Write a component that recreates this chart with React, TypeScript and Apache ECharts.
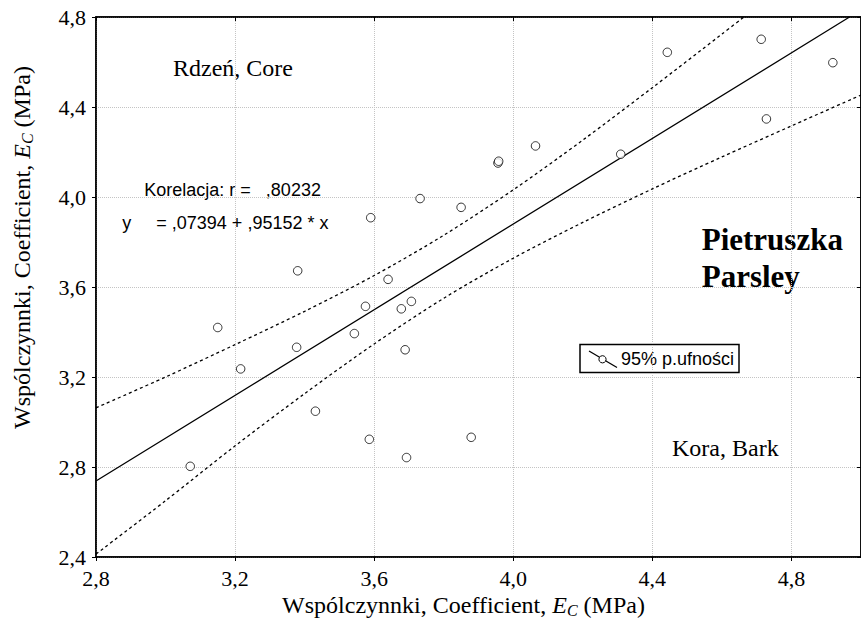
import React, { useEffect, useRef } from "react";
import * as echarts from "echarts";

// Observed points (Współczynnki E_C, x vs y)
const pointX = [3.071, 3.15, 3.216, 3.377, 3.38, 3.431, 3.543, 3.575, 3.586, 3.59, 3.64, 3.678, 3.707, 3.689, 3.693, 3.732, 3.85, 3.879, 3.956, 3.958, 4.064, 4.309, 4.443, 4.713, 4.728, 4.919];
const pointY = [2.803, 3.42, 3.236, 3.332, 3.672, 3.048, 3.393, 3.514, 2.923, 3.908, 3.634, 3.503, 3.536, 3.321, 2.842, 3.993, 3.954, 2.932, 4.151, 4.159, 4.227, 4.19, 4.643, 4.701, 4.347, 4.597];

// Regression line y = ,07394 + ,95152 * x (endpoints within the plot)
const fitX = [2.8, 4.967];
const fitY = [2.738, 4.8];

// 95% confidence band
const upperX = [2.8, 3.0, 3.2, 3.4, 3.6, 3.8, 4.0, 4.2, 4.4, 4.6, 4.663];
const upperY = [3.063, 3.2, 3.344, 3.492, 3.651, 3.83, 4.032, 4.253, 4.486, 4.724, 4.8];
const lowerX = [2.8, 3.0, 3.2, 3.4, 3.6, 3.8, 4.0, 4.2, 4.4, 4.6, 4.8, 5.0];
const lowerY = [2.413, 2.65, 2.894, 3.126, 3.347, 3.55, 3.728, 3.887, 4.036, 4.178, 4.316, 4.453];

const xTicks = { min: 2.8, max: 5.0, interval: 0.4 };
const yTicks = { min: 2.4, max: 4.8, interval: 0.4 };

const SERIF = "'Liberation Serif', 'Times New Roman', serif";
const SANS = "'Liberation Sans', Arial, sans-serif";

const zip = (xs: number[], ys: number[]) => xs.map((x, i) => [x, ys[i]]);
const fmt = (v: number) => v.toFixed(1).replace(".", ",");

const titleRich = {
  n: { fontFamily: SERIF, fontSize: 24, lineHeight: 27, fill: "#000" },
  e: { fontFamily: SERIF, fontSize: 24, lineHeight: 27, fontStyle: "italic", fill: "#000" },
  s: { fontFamily: SERIF, fontSize: 16, lineHeight: 16, fontStyle: "italic", verticalAlign: "bottom", fill: "#000" },
};

export default function App() {
  const ref = useRef<HTMLDivElement>(null);
  useEffect(() => {
    const chart = echarts.init(ref.current!, null, { renderer: "svg" });
    const splitLine = { show: true, lineStyle: { color: "#c4c4c4", type: "dotted", width: 1 } };
    const option: any = {
      animation: false,
      backgroundColor: "#fff",
      grid: { left: 96, top: 17, width: 767, height: 540, show: true, borderColor: "#000", borderWidth: 1.5, backgroundColor: "transparent" },
      xAxis: [
        {
          type: "value", min: xTicks.min, max: xTicks.max, interval: xTicks.interval,
          axisLine: { show: true, lineStyle: { color: "#000", width: 1.5 } },
          axisTick: { show: true, inside: false, length: 4, lineStyle: { color: "#000" } },
          axisLabel: { show: true, margin: 10, color: "#000", fontFamily: SERIF, fontSize: 22, formatter: fmt, showMaxLabel: false },
          splitLine,
        },
        {
          type: "value", position: "top", min: xTicks.min, max: xTicks.max, interval: xTicks.interval,
          axisLine: { show: true, lineStyle: { color: "#000", width: 1.5 } },
          axisTick: { show: true, inside: true, length: 4, lineStyle: { color: "#000" } },
          axisLabel: { show: false }, splitLine: { show: false },
        },
      ],
      yAxis: [
        {
          type: "value", min: yTicks.min, max: yTicks.max, interval: yTicks.interval,
          axisLine: { show: true, lineStyle: { color: "#000", width: 1.5 } },
          axisTick: { show: true, inside: false, length: 4, lineStyle: { color: "#000" } },
          axisLabel: { show: true, margin: 10, color: "#000", fontFamily: SERIF, fontSize: 22, formatter: fmt },
          splitLine,
        },
        {
          type: "value", position: "right", min: yTicks.min, max: yTicks.max, interval: yTicks.interval,
          axisLine: { show: true, lineStyle: { color: "#000", width: 1.5 } },
          axisTick: { show: true, inside: true, length: 4, lineStyle: { color: "#000" } },
          axisLabel: { show: false }, splitLine: { show: false },
        },
      ],
      series: [
        {
          type: "line", name: "Regresja", data: zip(fitX, fitY), showSymbol: false, symbol: "none",
          lineStyle: { color: "#000", width: 1.3 }, z: 3,
        },
        {
          type: "line", name: "95% p.ufności", data: zip(upperX, upperY), symbol: "none", smooth: 0.3,
          lineStyle: { color: "#000", width: 1.3, type: [3, 3] }, z: 3,
        },
        {
          type: "line", name: "95% p.ufności (dolna)", data: zip(lowerX, lowerY), symbol: "none", smooth: 0.3,
          lineStyle: { color: "#000", width: 1.3, type: [3, 3] }, z: 3,
        },
        {
          type: "scatter", name: "Punkty", data: zip(pointX, pointY), symbol: "circle", symbolSize: 8.5,
          itemStyle: { color: "#fff", borderColor: "#000", borderWidth: 1 }, z: 4,
        },
      ],
      graphic: [
        { type: "text", x: 173, y: 67.8, style: { text: "Rdzeń, Core", font: `24px ${SERIF}`, fill: "#000", align: "left", verticalAlign: "middle" } },
        { type: "text", x: 144.3, y: 190.4, style: { text: "Korelacja: r =   ,80232", font: `18px ${SANS}`, fill: "#000", align: "left", verticalAlign: "middle" } },
        { type: "text", x: 122.3, y: 222.6, style: { text: "y     = ,07394 + ,95152 * x", font: `18px ${SANS}`, fill: "#000", align: "left", verticalAlign: "middle" } },
        { type: "text", x: 701.7, y: 239.5, style: { text: "Pietruszka", font: `bold 31px ${SERIF}`, fill: "#000", align: "left", verticalAlign: "middle" } },
        { type: "text", x: 701.7, y: 276.8, style: { text: "Parsley", font: `bold 31px ${SERIF}`, fill: "#000", align: "left", verticalAlign: "middle" } },
        { type: "text", x: 672, y: 447.5, style: { text: "Kora, Bark", font: `24px ${SERIF}`, fill: "#000", align: "left", verticalAlign: "middle" } },
        // legend box
        { type: "rect", shape: { x: 580, y: 344.5, width: 159, height: 28 }, style: { fill: "transparent", stroke: "#000", lineWidth: 1.5 } },
        { type: "line", shape: { x1: 589, y1: 351, x2: 617, y2: 367.5 }, style: { stroke: "#000", lineWidth: 1.3 } },
        { type: "circle", shape: { cx: 602.5, cy: 359.3, r: 3.6 }, style: { fill: "#fff", stroke: "#000", lineWidth: 1 } },
        { type: "text", x: 621, y: 358.5, style: { text: "95% p.ufności", font: `18px ${SANS}`, fill: "#000", align: "left", verticalAlign: "middle" } },
        // axis titles
        {
          type: "text", x: 463.5, y: 605,
          style: {
            text: "{n|Wspólczynnki, Coefficient, }{e|E}{s|C}{n| (MPa)}",
            align: "center", verticalAlign: "middle", fill: "#000", rich: titleRich,
          },
        },
        {
          type: "text", x: 22, y: 247.5, rotation: Math.PI / 2,
          style: {
            text: "{n|Wspólczynnki, Coefficient, }{e|E}{s|C}{n| (MPa)}",
            align: "center", verticalAlign: "middle", fill: "#000", rich: titleRich,
          },
        },
      ],
    };
    chart.setOption(option);
    return () => chart.dispose();
  }, []);
  return <div ref={ref} style={{ position: "absolute", left: 0, top: 0, width: 861, height: 625 }} />;
}
